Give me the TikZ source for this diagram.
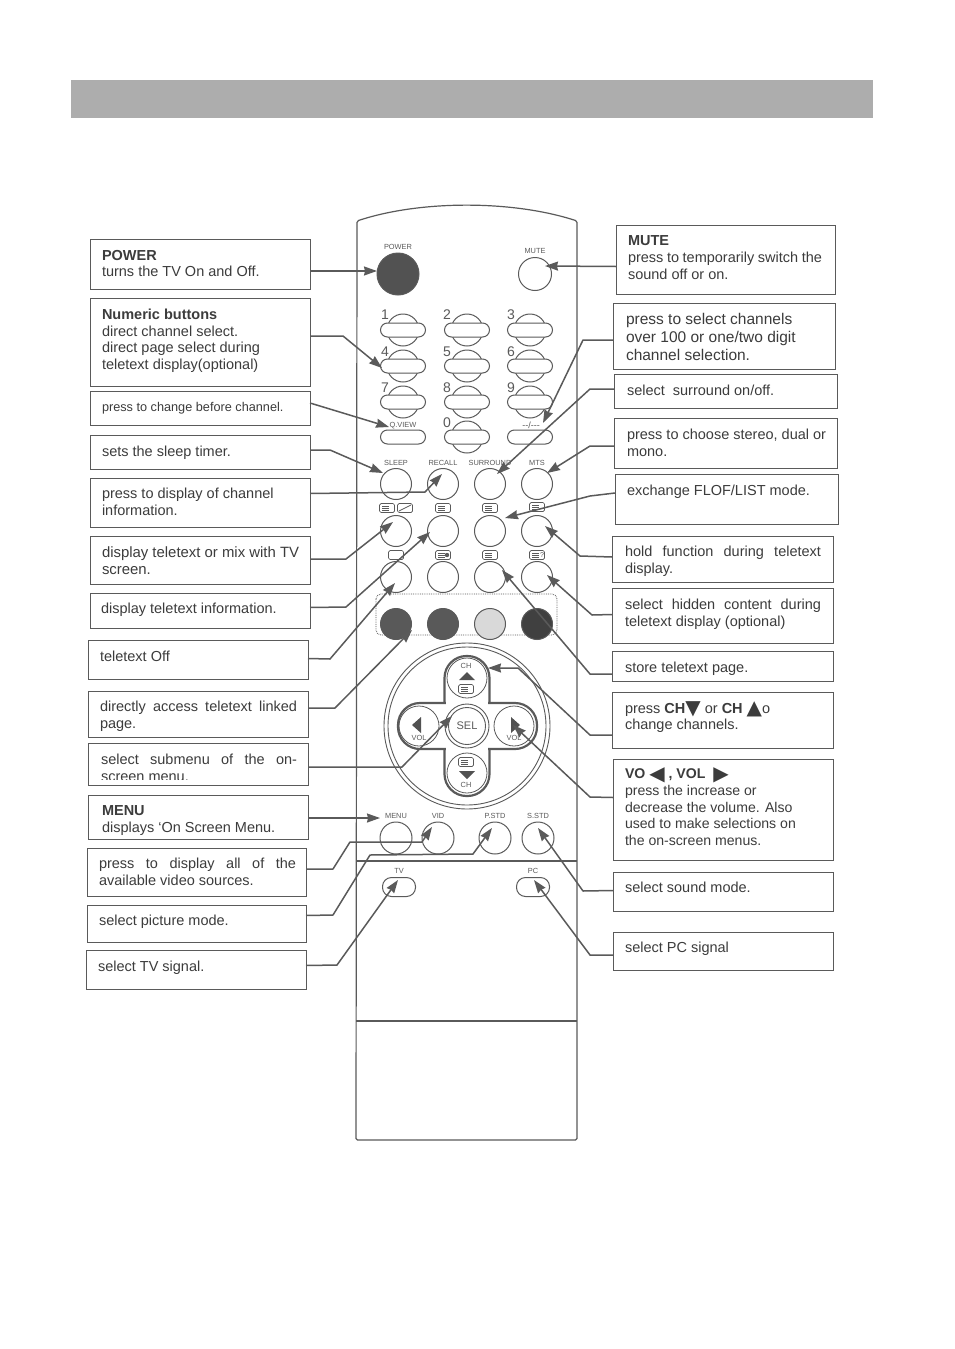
\documentclass[tikz,border=0pt]{standalone}
\usepackage{fontspec}
\setmainfont{Liberation Sans}
\newfontfamily\symf{DejaVu Sans}
\usetikzlibrary{arrows.meta,calc}
\definecolor{ink}{HTML}{3C3C3C}
\definecolor{rule}{HTML}{5A5A5A}
\tikzset{
 infobox/.style={draw=rule,line width=1pt,inner sep=0pt,outer sep=0pt},
 infotext/.style={anchor=north west,inner sep=0pt,outer sep=0pt,align=left,text=ink},
 conn/.style={draw=rule,line width=1.5pt,-{Stealth[length=13pt,width=9pt,inset=1pt]},line join=round},
 rbtn/.style={circle,draw=rule,line width=1pt,minimum size=31pt,inner sep=0pt,outer sep=0pt,fill=white},
 pill/.style={rounded corners=7pt,draw=rule,line width=1pt,minimum width=45pt,minimum height=14pt,inner sep=0pt,outer sep=0pt,fill=white},
 tag/.style={text=rule,inner sep=0pt,font=\fontsize{7.4}{8}\selectfont},
 numl/.style={text=rule,inner sep=0pt,font=\fontsize{14}{15}\selectfont},
 icon/.style={draw=rule,line width=.7pt,rounded corners=1.5pt,minimum width=15pt,minimum height=9pt,inner sep=0pt}
}
\newcommand\ibox[8][14.5]{%
 \pgfmathsetmacro\bw{#5-#3}\pgfmathsetmacro\bh{#6-#4}\pgfmathsetmacro\bl{#1>15?18.2:16.7}%
 \node[infobox,minimum width=\bw pt,minimum height=\bh pt,anchor=north west] (#2) at (#3,#4) {};
 \node[infotext,font=\fontsize{#1}{\bl}\selectfont] (#2t) at (#7,#8+3) {\ibtext};}
\newcommand\J[2]{\makebox[#1pt][s]{#2}}
\newcommand\Gl[1]{\raisebox{-1.5pt}{\smash{\symf\fontsize{20}{20}\selectfont #1}}}
\begin{document}
\begin{tikzpicture}[x=1pt,y=-1pt]
\useasboundingbox (0,0) rectangle (954,1349);
\fill[white] (0,0) rectangle (954,1349);
\node[fill=black!32,minimum width=802pt,minimum height=38pt,inner sep=0pt,anchor=north west] (header) at (71,80) {};
% remote body
\draw[rule,line width=1.2pt,rounded corners=1.5pt] (357,221) .. controls (420,200) and (513,200) .. (577,221) -- (577,1140) -- (356,1140) -- cycle;
\draw[rule,line width=1.1pt] (356,861) -- (577,861);
\draw[rule,line width=1.1pt] (356,1021) -- (577,1021);
% power, mute
\node[rbtn,fill=black!68,minimum size=42pt] (power) at (398,274) {};
\node[rbtn,minimum size=33pt] (mute) at (535,274) {};
\node[tag] (lpower) at (398,247) {POWER};
\node[tag] (lmute) at (535,251) {MUTE};
% numeric
\foreach \n/\x/\y in {1/403/330,2/467/330,3/530/330,4/403/366,5/467/366,6/530/366,7/403/402,8/467/402,9/530/402,0/467/437}{
 \node[circle,draw=rule,line width=1pt,minimum size=32pt,inner sep=0pt] (c\n) at (\x,\y) {};
 \node[pill] (k\n) at (\x,\y) {};
}
\node[pill] (kq) at (403,437) {};
\node[pill] (kd) at (530,437) {};
\foreach \n/\x/\y in {1/385/315,2/447/315,3/511/315,4/385/352,5/447/352,6/511/352,7/385/388,8/447/388,9/511/388,0/447/423}{
 \node[numl] (n\n) at (\x,\y) {\n};
}
\node[tag] (lq) at (403,426) {Q.VIEW};
\node[tag,font=\fontsize{9}{9}\selectfont] (ld) at (531,425) {-{}-/-{}-{}-};
% round rows
\foreach \a/\x in {a/396,b/443,c/490,d/537}{
 \node[rbtn] (\a1) at (\x,484) {};
 \node[rbtn] (\a2) at (\x,531) {};
 \node[rbtn] (\a3) at (\x,577) {};
}
\node[tag] (lsleep) at (396,463) {SLEEP};
\node[tag] (lrecall) at (443,463) {RECALL};
\node[tag] (lsur) at (490,463) {SURROUND};
\node[tag] (lmts) at (537,463) {MTS};
\node[icon] (i1) at (387,508) {};
\node[icon] (i2) at (405,508) {};
\node[icon] (i3) at (443,508) {};
\node[icon] (i4) at (490,508) {};
\node[icon] (i5) at (537,507) {};
\node[icon] (i6) at (396,555) {};
\node[icon] (i7) at (443,555) {};
\node[icon] (i8) at (490,555) {};
\node[icon] (i9) at (537,555) {};
\draw[rule,line width=.7pt] (399,511) -- (411,505);
\fill[rule] (447,555) circle (2.2);
\node[inner sep=0pt,text=rule,font=\fontsize{7}{7}\selectfont] (q9) at (542,555) {?};
% colour keys
\draw[rule,line width=.8pt,densely dotted,rounded corners=5pt] (376,594) rectangle (557,635);
\node[rbtn,fill=black!65] (red) at (396,624) {};
\node[rbtn,fill=black!65] (green) at (443,624) {};
\node[rbtn,fill=black!15] (yellow) at (490,624) {};
\node[rbtn,fill=black!75] (blue) at (537,624) {};
% d-pad
\draw[rule,line width=.9pt] (467,726) circle (83) (467,726) circle (79);
\draw[rule,line width=2.2pt,fill=white,rounded corners=22pt] (444.5,656) rectangle (489.5,796);
\draw[rule,line width=2.2pt,fill=white,rounded corners=22pt] (398,703) rectangle (537,749);
\fill[white] (445.7,701) rectangle (488.3,751);
\node[circle,draw=rule,line width=.8pt,minimum size=40pt,inner sep=0pt] (up) at (467,678) {};
\node[circle,draw=rule,line width=.8pt,minimum size=40pt,inner sep=0pt] (down) at (467,773) {};
\node[circle,draw=rule,line width=.8pt,minimum size=40pt,inner sep=0pt] (left) at (419,726) {};
\node[circle,draw=rule,line width=.8pt,minimum size=40pt,inner sep=0pt] (right) at (514,726) {};
\node[circle,draw=rule,line width=.9pt,fill=white,minimum size=44pt,inner sep=0pt] (selo) at (467,726) {};
\node[circle,draw=rule,line width=.9pt,minimum size=37pt,inner sep=0pt,text=rule,font=\fontsize{11}{12}\selectfont] (sel) at (467,726) {SEL};
\fill[rule!90!black] (459,680) -- (475,680) -- (467,672) -- cycle;
\fill[rule!90!black] (459,771) -- (475,771) -- (467,779) -- cycle;
\fill[rule!90!black] (421,717) -- (421,733) -- (412,725) -- cycle;
\fill[rule!90!black] (511,717) -- (511,733) -- (520,725) -- cycle;
\node[tag] (lcht) at (466,666) {CH};
\node[tag] (lchb) at (466,785) {CH};
\node[tag] (lvl) at (419,738) {VOL};
\node[tag] (lvr) at (514,738) {VOL};
\node[icon] (i10) at (466,689) {};
\node[icon] (i11) at (466,762) {};
\foreach \x/\y in {387/508,443/508,490/508,537/507,443/555,490/555,537/555,466/689,466/762}{
 \draw[rule,line width=.5pt] (\x-5,\y-2) -- (\x+2,\y-2) (\x-5,\y) -- (\x+2,\y) (\x-5,\y+2) -- (\x+2,\y+2);
}
% lower buttons
\node[rbtn,minimum size=32pt] (menu) at (396,838) {};
\node[rbtn,minimum size=32pt] (vid) at (438,838) {};
\node[rbtn,minimum size=32pt] (pstd) at (495,838) {};
\node[rbtn,minimum size=32pt] (sstd) at (538,838) {};
\node[tag] (lmenu) at (396,816) {MENU};
\node[tag] (lvid) at (438,816) {VID};
\node[tag] (lpstd) at (495,816) {P.STD};
\node[tag] (lsstd) at (538,816) {S.STD};
\node[pill,minimum width=33pt,minimum height=19pt,rounded corners=9pt] (tv) at (399,887) {};
\node[pill,minimum width=33pt,minimum height=19pt,rounded corners=9pt] (pc) at (533,887) {};
\node[tag] (ltv) at (399,871) {TV};
\node[tag] (lpc) at (533,871) {PC};
% left boxes
\def\ibtext{\textbf{POWER}\\turns the TV On and Off.}
\ibox{bpower}{90}{239}{310}{289}{102}{247}
\def\ibtext{\textbf{Numeric buttons}\\direct channel select.\\direct page select during\\teletext display(optional)}
\ibox{bnum}{90}{298}{310}{386}{102}{306}
\def\ibtext{press to change before channel.}
\ibox[12.7]{bbefore}{90}{391}{310}{425}{102}{399}
\def\ibtext{sets the sleep timer.}
\ibox{bsleep}{90}{435}{310}{469}{102}{443}
\def\ibtext{press to display of channel\\information.}
\ibox{brecall}{90}{478}{310}{527}{102}{485}
\def\ibtext{display teletext or mix with TV\\screen.}
\ibox[14.9]{bmix}{90}{536}{310}{584}{102}{544}
\def\ibtext{display teletext information.}
\ibox{binfo}{90}{593}{310}{628}{101}{600}
\def\ibtext{teletext Off}
\ibox{boff}{88}{640}{308}{679}{100}{648}
\def\ibtext{\J{197}{directly access teletext linked}\\page.}
\ibox{blink}{88}{691}{308}{737}{100}{698}
\def\ibtext{\J{196}{select submenu of the on-}\\screen menu.}
\ibox{bsub}{88}{743}{308}{785}{101}{751}
\fill[white] (100,780) rectangle (190,784);
\def\ibtext{\textbf{MENU}\\displays ‘On Screen Menu.}
\ibox{bmenu}{88}{795}{308}{839}{102}{803}
\def\ibtext{\J{197}{press to display all of the}\\available video sources.}
\ibox{bvid}{87}{848}{306}{896}{99}{855}
\def\ibtext{select picture mode.}
\ibox{bpic}{87}{905}{306}{942}{99}{912}
\def\ibtext{select TV signal.}
\ibox{btv}{86}{950}{306}{989}{98}{958}
% right boxes
\def\ibtext{\textbf{MUTE}\\\J{194}{press to temporarily switch the}\\sound off or on.}
\ibox{bmute}{616}{225}{835}{294}{628}{233}
\def\ibtext{press to select channels\\over 100 or one/two digit\\channel selection.}
\ibox[15.5]{bdigit}{613}{303}{835}{369}{626}{310}
\def\ibtext{select\ \ surround on/off.}
\ibox{bsur}{614}{374}{837}{408}{627}{382}
\def\ibtext{press to choose stereo, dual or\\mono.}
\ibox{bmts}{614}{418}{837}{468}{627}{426}
\def\ibtext{exchange FLOF/LIST mode.}
\ibox{bflof}{615}{474}{838}{524}{627}{482}
\def\ibtext{\J{196}{hold function during teletext}\\display.}
\ibox{bhold}{612}{536}{833}{582}{625}{543}
\def\ibtext{\J{196}{select hidden content during}\\teletext display (optional)}
\ibox{bhidden}{612}{588}{833}{643}{625}{596}
\def\ibtext{store teletext page.}
\ibox{bstore}{612}{651}{833}{681}{625}{659}
\def\ibtext{press \textbf{CH}\Gl{▼} or \textbf{CH} \Gl{▲}o\\change channels.}
\ibox{bch}{612}{692}{833}{748}{625}{700}
\def\ibtext{\textbf{VO} \Gl{◀}\textbf{ , VOL\ \ }\Gl{▶}\\press the increase or\\decrease the volume. Also\\used to make selections on\\the on-screen menus.}
\ibox[14.1]{bvol}{613}{759}{833}{860}{625}{766}
\def\ibtext{select sound mode.}
\ibox{bsound}{613}{872}{833}{911}{625}{879}
\def\ibtext{select PC signal}
\ibox{bpc}{613}{932}{833}{970}{625}{939}
% connectors, left
\draw[conn] ($(bpower.east)+(0,7)$) -- ($(power.west)+(0,-3)$);
\draw[conn] ($(bnum.east)+(0,-6)$) -- (343,336) -- ($(k4)+(-21,2)$);
\draw[conn] ($(bbefore.east)+(0,-5)$) -- ($(kq)+(-14,-10)$);
\draw[conn] ($(bsleep.east)+(0,-2)$) -- (330,450) -- ($(a1)+(-13,-11)$);
\draw[conn] ($(brecall.east)+(0,-9)$) -- (425,492) -- ($(b1)+(-1,-10)$);
\draw[conn] ($(bmix.east)+(0,-1)$) -- (346,559) -- ($(a2)+(-3,-9)$);
\draw[conn] ($(binfo.east)+(0,-3)$) -- (346,607) -- ($(b2)+(-13,1)$);
\draw[conn] ($(boff.east)+(0,-1)$) -- (330,659) -- ($(a3)+(-1,6)$);
\draw[conn] ($(blink.east)+(0,-6)$) -- (335,708) -- ($(red)+(16,6)$);
\draw[conn] ($(bsub.east)+(0,3)$) -- (402,767) -- ($(sel)+(-15,-10)$);
\draw[conn] ($(bmenu.east)+(0,1)$) -- ($(menu)+(-16,-20)$);
\draw[conn] ($(bvid.east)+(0,-3)$) -- (333,869) -- (350,842) -- (422,842) -- ($(vid)+(-6,-11)$);
\draw[conn] ($(bpic.east)+(0,-8)$) -- (333,915) -- (370,855) -- (473,854) -- ($(pstd)+(-3,-10)$);
\draw[conn] ($(btv.east)+(0,-4)$) -- (337,965) -- ($(tv)+(-1,-7)$);
% connectors, right
\draw[conn] ($(bmute.west)+(0,7)$) -- ($(mute)+(10,-8)$);
\draw[conn] ($(bdigit.west)+(0,4)$) -- (583,340) -- ($(kd)+(13,-14)$);
\draw[conn] ($(bsur.west)+(0,-2)$) -- (590,389) -- ($(c1)+(7,-10)$);
\draw[conn] ($(bmts.west)+(0,3)$) -- (590,446) -- ($(d1)+(10,-11)$);
\draw[conn] ($(bflof.west)+(0,-6)$) -- (590,496) -- ($(c2)+(15,-13)$);
\draw[conn] ($(bhold.west)+(0,-2)$) -- (580,556) -- ($(d2)+(8,-5)$);
\draw[conn] ($(bhidden.west)+(0,-1)$) -- (592,615) -- ($(d3)+(10,-2)$);
\draw[conn] ($(bstore.west)+(0,8)$) -- (590,674) -- ($(c3)+(12,-7)$);
\draw[conn] ($(bch.west)+(0,15)$) -- (590,735) -- (518,668) -- ($(up)+(21,-10)$);
\draw[conn] ($(bvol.west)+(0,-12)$) -- (590,797) -- ($(right)+(-1,-1)$);
\draw[conn] ($(bsound.west)+(0,-1)$) -- (583,891) -- ($(sstd)+(0,-10)$);
\draw[conn] ($(bpc.west)+(0,4)$) -- (590,955) -- ($(pc)+(1,-7)$);
\end{tikzpicture}
\end{document}
